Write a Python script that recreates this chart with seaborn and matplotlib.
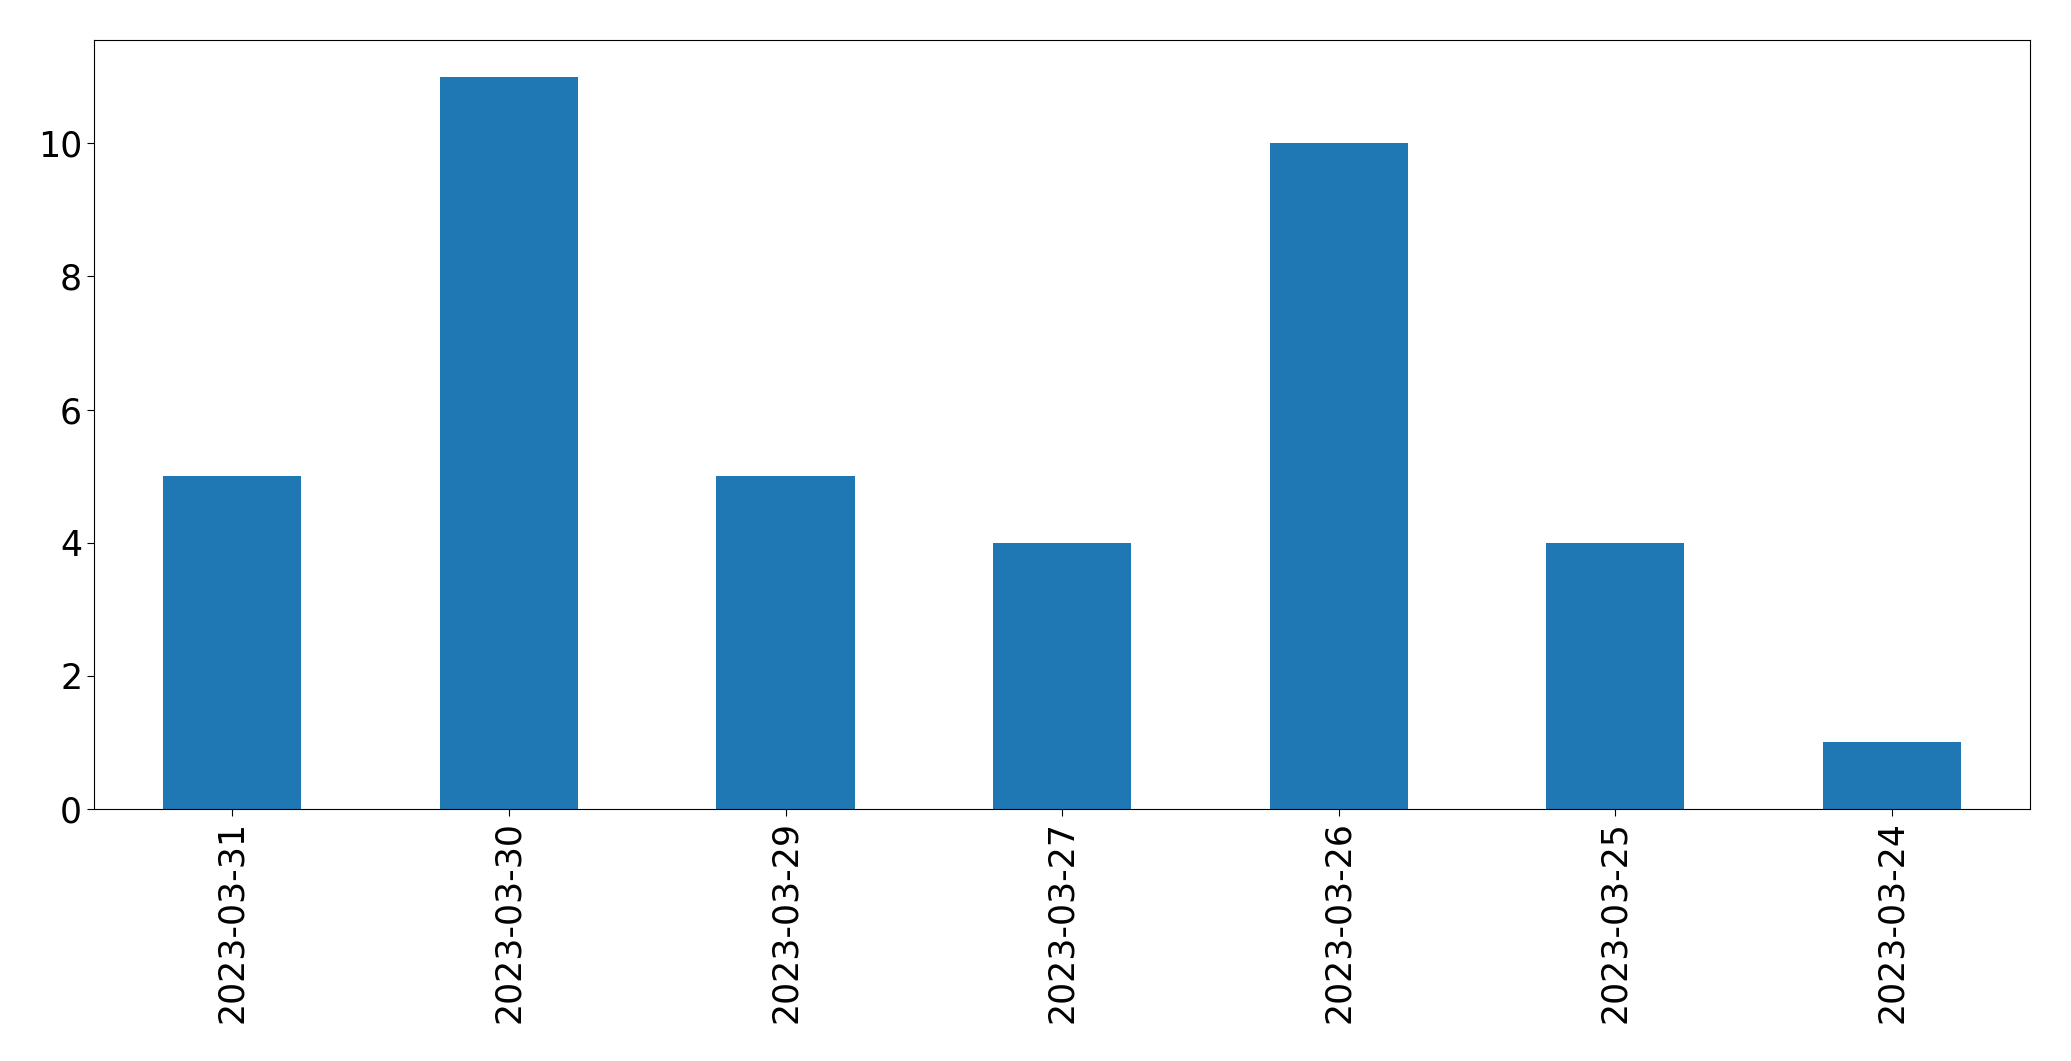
import matplotlib
matplotlib.use("Agg")
import matplotlib.pyplot as plt
import seaborn as sns
import pandas as pd

# conteo por fecha (orden como en el original)
dates = ["2023-03-31", "2023-03-30", "2023-03-29", "2023-03-27",
         "2023-03-26", "2023-03-25", "2023-03-24"]
counts = [5, 11, 5, 4, 10, 4, 1]

df = pd.DataFrame({"date": dates, "count": counts})

fig, ax = plt.subplots(figsize=(20.71, 10.61), dpi=100)
sns.barplot(data=df, x="date", y="count", order=dates, color="#1f77b4",
            saturation=1, width=0.5, linewidth=0, ax=ax)

ax.set_xlim(-0.5, len(dates) - 0.5)
ax.set_ylim(0, max(counts) * 1.05)
ax.set_xlabel("")
ax.set_ylabel("")
ax.tick_params(axis="both", labelsize=25, length=5)
plt.setp(ax.get_xticklabels(), rotation=90)

fig.subplots_adjust(left=0.0454, right=0.9803, top=0.9623, bottom=0.2375)
fig.savefig("out.png", dpi=100)
